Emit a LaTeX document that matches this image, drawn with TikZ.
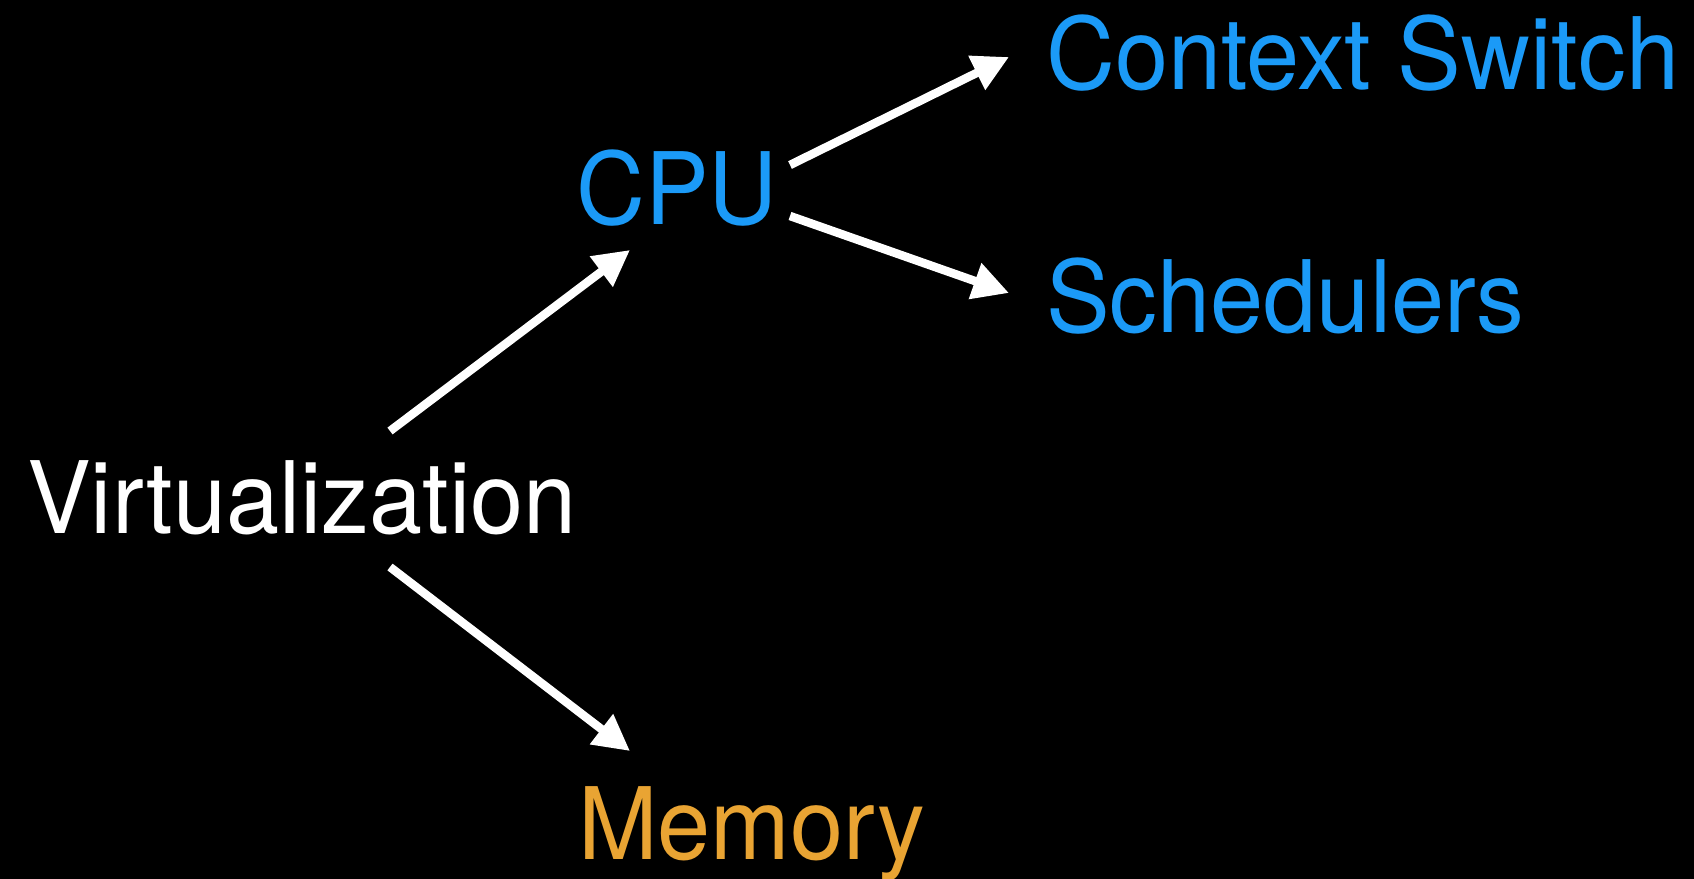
\documentclass[tikz,border=0pt]{standalone}
\usepackage{fontspec}
\setmainfont{TeX Gyre Heros}[FakeStretch=0.955]
\usetikzlibrary{arrows.meta}
\definecolor{topicblue}{HTML}{1B9AF7}
\definecolor{topicorange}{HTML}{E9A433}
\tikzset{
  label text/.style={anchor=base west, inner sep=0pt,
    font=\fontsize{100}{110}\selectfont},
  link/.style={draw=white, line width=8.5pt,
    -{Triangle[length=36pt,width=36pt]}}
}
\begin{document}
\begin{tikzpicture}[x=1pt,y=-1pt]
  \useasboundingbox (0,0) rectangle (1694,878);
  \fill[black] (-10,-10) rectangle (1704,888);

  % topic labels
  \node[label text, text=white]       (virt) at (27,533)   {Virtualization};
  \node[label text, text=topicblue]   (cpu)  at (576,224)  {CPU};
  \node[label text, text=topicblue]   (ctx)  at (1046,89)  {Context Switch};
  \node[label text, text=topicblue]   (sched) at (1046,332) {Schedulers};
  \node[label text, text=topicorange] (mem)  at (578,859)  {Memory};

  % arrow end points beside the labels
  \coordinate (virt-up)   at (390,431);
  \coordinate (virt-down) at (390,567);
  \coordinate (cpu-in)    at (630,250);
  \coordinate (mem-in)    at (630,751);
  \coordinate (cpu-up)    at (790,165);
  \coordinate (cpu-down)  at (790,216);
  \coordinate (ctx-in)    at (1009,57);
  \coordinate (sched-in)  at (1009,293);

  \draw[link] (virt-up)   -- (cpu-in);
  \draw[link] (virt-down) -- (mem-in);
  \draw[link] (cpu-up)    -- (ctx-in);
  \draw[link] (cpu-down)  -- (sched-in);
\end{tikzpicture}
\end{document}
